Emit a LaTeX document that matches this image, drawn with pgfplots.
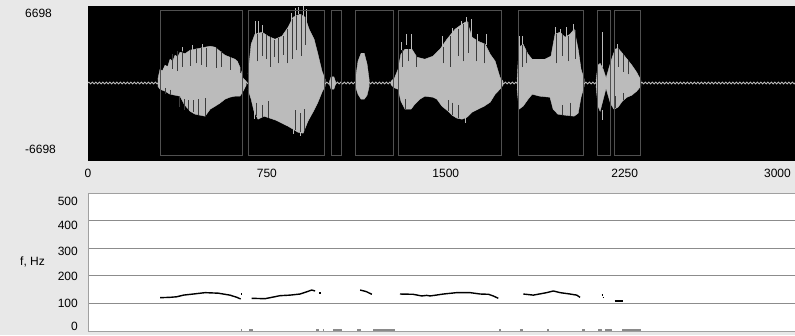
\documentclass[border=0pt]{standalone}
\usepackage{pgfplots}
\pgfplotsset{compat=1.18}
\usepackage{fontspec}
\setmainfont{Liberation Sans}
\usetikzlibrary{decorations.pathmorphing}
\definecolor{bg}{HTML}{E8E8E8}
\definecolor{wave}{HTML}{BBBBBB}
\definecolor{roi}{HTML}{505050}
\definecolor{gridc}{HTML}{8C8C8C}
\definecolor{frame}{HTML}{A0A0A0}
\definecolor{dark}{HTML}{3C3C3C}
\definecolor{markc}{HTML}{8A8A8A}
\begin{document}
\fontsize{12pt}{14pt}\selectfont
\begin{tikzpicture}[x=1pt,y=1pt]
\useasboundingbox (0,0) rectangle (795,335);
\fill[bg] (0,0) rectangle (795,335);
% ---------------- waveform panel ----------------
\begin{axis}[
  at={(88pt,175pt)}, anchor=south west, scale only axis,
  width=712pt, height=154pt,
  xmin=0, xmax=2985, ymin=-7080, ymax=7080,
  axis background/.style={fill=black},
  axis line style={black},
  xtick={0,750,1500,2250}, xticklabels={0,750,1500,2250},
  extra x ticks={2964}, extra x tick labels={3000},
  extra x tick style={xticklabel style={anchor=north east}},
  xticklabel style={yshift=-5pt, font=\fontsize{12pt}{14pt}\selectfont},
  ytick={-6086,6417}, yticklabels={-6698,6698},
  yticklabel style={anchor=west, xshift=-67pt, font=\fontsize{12pt}{14pt}\selectfont},
  major tick length=0pt, tick style={draw=none},
  unbounded coords=jump,
]
% background noise line
\addplot[wave, line width=1pt, decorate, decoration={zigzag, segment length=3.5pt, amplitude=0.9pt}] coordinates {(0,0) (2985,0)};
% blob A
\addplot[fill=wave, draw=wave, line width=0.4pt] coordinates {
(293,349) (302,1269) (312,1100) (323,1637) (334,1500) (344,2188) (355,2000) (365,2556) (376,2400) (386,2832) (407,2700) (428,3016) (449,3108) (470,3200) (491,3291) (512,3383) (533,3291) (553,2924) (574,2556) (595,2372) (616,2188) (626,2000) (637,1453) (650,441) (663,165)
(663,-202) (650,-754) (637,-1214) (616,-1214) (595,-1306) (574,-1489) (553,-1857) (533,-2133) (512,-2409) (491,-3052) (470,-2960) (449,-2868) (428,-2593) (403,-1949) (386,-1214) (365,-1122) (344,-1030) (323,-754) (302,-570) (293,-294)};
% blob B
\addplot[fill=wave, draw=wave, line width=0.4pt] coordinates {
(671,809) (684,3567) (700,4487) (730,4670) (755,4303) (784,4027) (813,4303) (839,5130) (860,6050) (889,6325) (910,6050) (927,4946) (948,4027) (964,2648) (981,1085) (994,349)
(994,-294) (981,-846) (964,-1765) (943,-2685) (922,-3512) (902,-4615) (880,-4524) (860,-4248) (839,-3972) (813,-3696) (788,-3420) (763,-3236) (738,-3052) (713,-3328) (696,-2593) (684,-1489) (671,-570)};
% small bump
\addplot[fill=wave, draw=wave, line width=0.4pt] coordinates {
(1012,100) (1019,560) (1031,560) (1038,100) (1038,-100) (1031,-560) (1019,-560) (1012,-100)};
% blob D
\addplot[fill=wave, draw=wave, line width=0.4pt] coordinates {
(1120,165) (1132,2004) (1145,2740) (1158,2740) (1170,1728) (1179,257)
(1179,-294) (1170,-1122) (1158,-1489) (1145,-1489) (1132,-1030) (1120,-202)};
% blob E
\addplot[fill=wave, draw=wave, line width=0.4pt] coordinates {
(1270,150) (1285,450) (1300,1269) (1312,2648) (1329,3108) (1358,3108) (1379,2372) (1412,2188) (1446,2464) (1476,3108) (1505,4027) (1539,4946) (1568,5406) (1589,5682) (1610,4211) (1635,3844) (1665,3567) (1686,2648) (1707,2004) (1727,533) (1740,165)
(1740,-202) (1727,-570) (1707,-1030) (1686,-1765) (1661,-2133) (1635,-2409) (1610,-2685) (1589,-3144) (1568,-3328) (1547,-3236) (1526,-2960) (1505,-2501) (1484,-2133) (1463,-1489) (1446,-1306) (1412,-1214) (1391,-1489) (1370,-1949) (1354,-2409) (1329,-2409) (1312,-1673) (1300,-570) (1285,-450) (1270,-150)};
% blob F
\addplot[fill=wave, draw=wave, line width=0.4pt] coordinates {
(1799,349) (1807,3291) (1824,3567) (1845,2648) (1862,2188) (1916,2188) (1941,2464) (1958,4487) (1979,4670) (2000,4211) (2021,4487) (2038,4946) (2055,3108) (2067,1269) (2080,349)
(2080,-294) (2067,-1306) (2055,-2777) (2038,-3052) (2000,-2960) (1970,-2868) (1950,-2409) (1937,-1306) (1895,-1214) (1862,-1030) (1845,-1489) (1824,-2133) (1807,-2409) (1799,-570)};
% blob G
\addplot[fill=wave, draw=wave, line width=0.4pt] coordinates {
(2130,257) (2138,1637) (2147,1800) (2160,1269) (2172,441) (2185,1453) (2198,2372) (2210,3108) (2222,3200) (2240,2740) (2260,2188) (2280,1637) (2300,993) (2318,257)
(2318,-294) (2300,-754) (2280,-1122) (2260,-1306) (2240,-1673) (2222,-2225) (2205,-2409) (2190,-1857) (2172,-478) (2160,-1489) (2147,-2593) (2138,-2133) (2130,-294)};
% light spikes
\addplot[wave, line width=0.9pt] coordinates {
(394,2800) (394,3300) (394,nan)
(436,2900) (436,3500) (436,nan)
(478,3100) (478,3600) (478,nan)
(700,4400) (700,5682) (700,nan)
(713,4400) (713,5682) (713,nan)
(730,4600) (730,5300) (730,nan)
(851,5500) (851,6400) (851,nan)
(868,6000) (868,6900) (868,nan)
(881,6300) (881,7000) (881,nan)
(902,6000) (902,7153) (902,nan)
(914,5500) (914,6785) (914,nan)
(1316,3000) (1316,3751) (1316,nan)
(1333,3500) (1333,4487) (1333,nan)
(1354,3100) (1354,4487) (1354,nan)
(1488,3300) (1488,4303) (1488,nan)
(1530,4500) (1530,5100) (1530,nan)
(1564,5300) (1564,5700) (1564,nan)
(1585,5500) (1585,6050) (1585,nan)
(1606,4200) (1606,5866) (1606,nan)
(1631,3800) (1631,4487) (1631,nan)
(1669,3500) (1669,4487) (1669,nan)
(1807,3200) (1807,4303) (1807,nan)
(1820,3500) (1820,4303) (1820,nan)
(1960,4400) (1960,5130) (1960,nan)
(1979,4600) (1979,4946) (1979,nan)
(2004,4200) (2004,5130) (2004,nan)
(2034,4900) (2034,5406) (2034,nan)
(2155,1500) (2155,4670) (2155,nan)
(2218,3100) (2218,3567) (2218,nan)
(696,-2500) (696,-3300) (696,nan)
(860,-4200) (860,-4700) (860,nan)
(889,-4400) (889,-4900) (889,nan)
(1584,-3100) (1584,-3700) (1584,nan)
(2155,-2500) (2155,-3400) (2155,nan)
};
% dark streaks
\addplot[dark, line width=0.8pt] coordinates {
(352,1300) (352,2700) (352,nan)
(373,1100) (373,2900) (373,nan)
(394,1500) (394,2950) (394,nan)
(428,1600) (428,3000) (428,nan)
(453,1800) (453,3100) (453,nan)
(474,1700) (474,3200) (474,nan)
(495,1500) (495,3250) (495,nan)
(537,1400) (537,3250) (537,nan)
(558,1500) (558,2900) (558,nan)
(595,1200) (595,2372) (595,nan)
(637,900) (637,1450) (637,nan)
(323,-500) (323,-1000) (323,nan)
(344,-600) (344,-1100) (344,nan)
(382,-1300) (382,-2200) (382,nan)
(403,-1500) (403,-2500) (403,nan)
(419,-1600) (419,-2500) (419,nan)
(440,-1600) (440,-2700) (440,nan)
(461,-1500) (461,-2900) (461,nan)
(491,-1400) (491,-3000) (491,nan)
(709,2000) (709,4487) (709,nan)
(730,2500) (730,4600) (730,nan)
(746,2200) (746,4400) (746,nan)
(763,1500) (763,4200) (763,nan)
(780,2400) (780,4000) (780,nan)
(797,1800) (797,4100) (797,nan)
(818,2600) (818,4300) (818,nan)
(835,1800) (835,5000) (835,nan)
(855,2200) (855,5900) (855,nan)
(872,3000) (872,6200) (872,nan)
(893,2500) (893,6300) (893,nan)
(910,3500) (910,6050) (910,nan)
(705,-1800) (705,-3000) (705,nan)
(730,-2000) (730,-3100) (730,nan)
(755,-1700) (755,-3200) (755,nan)
(868,-2500) (868,-4300) (868,nan)
(889,-2800) (889,-4500) (889,nan)
(906,-2400) (906,-4400) (906,nan)
(1316,1500) (1316,3000) (1316,nan)
(1342,2000) (1342,3100) (1342,nan)
(1375,1500) (1375,2500) (1375,nan)
(1488,1800) (1488,3300) (1488,nan)
(1518,1500) (1518,4300) (1518,nan)
(1551,2500) (1551,5000) (1551,nan)
(1572,2000) (1572,5400) (1572,nan)
(1593,2800) (1593,5600) (1593,nan)
(1627,2000) (1627,4000) (1627,nan)
(1661,1800) (1661,3700) (1661,nan)
(1329,-1500) (1329,-2400) (1329,nan)
(1509,-1600) (1509,-2600) (1509,nan)
(1526,-1800) (1526,-2900) (1526,nan)
(1551,-2000) (1551,-3200) (1551,nan)
(1820,1500) (1820,3500) (1820,nan)
(1837,1800) (1837,3000) (1837,nan)
(1962,1800) (1962,4500) (1962,nan)
(1987,2500) (1987,4500) (1987,nan)
(2013,2000) (2013,4300) (2013,nan)
(2042,2200) (2042,4900) (2042,nan)
(1987,-2000) (1987,-2900) (1987,nan)
(2021,-1800) (2021,-3000) (2021,nan)
(2206,1200) (2206,3100) (2206,nan)
(2222,1500) (2222,3200) (2222,nan)
(2243,1000) (2243,2700) (2243,nan)
(2264,800) (2264,2100) (2264,nan)
(2210,-1200) (2210,-2300) (2210,nan)
(2243,-900) (2243,-1600) (2243,nan)
};
% segment rectangles
\addplot[roi, line width=0.9pt] coordinates {
(302,-6698) (647,-6698) (647,6698) (302,6698) (302,-6698) (302,nan)
(672,-6698) (990,-6698) (990,6698) (672,6698) (672,-6698) (672,nan)
(1019,-6698) (1061,-6698) (1061,6698) (1019,6698) (1019,-6698) (1019,nan)
(1120,-6698) (1280,-6698) (1280,6698) (1120,6698) (1120,-6698) (1120,nan)
(1301,-6698) (1735,-6698) (1735,6698) (1301,6698) (1301,-6698) (1301,nan)
(1804,-6698) (2077,-6698) (2077,6698) (1804,6698) (1804,-6698) (1804,nan)
(2136,-6698) (2189,-6698) (2189,6698) (2136,6698) (2136,-6698) (2136,nan)
(2207,-6698) (2316,-6698) (2316,6698) (2207,6698) (2207,-6698)
};
\end{axis}
% ---------------- pitch panel ----------------
\begin{axis}[
  at={(88pt,4pt)}, anchor=south west, scale only axis,
  width=712pt, height=138pt,
  xmin=0, xmax=2985, ymin=0, ymax=500,
  axis background/.style={fill=white},
  axis line style={frame, line width=0.8pt},
  xtick=\empty,
  ytick={100,200,300,400}, yticklabels={,,,},
  ymajorgrids, grid style={gridc, line width=0.8pt},
  extra y ticks={16,100,197,287,384,468},
  extra y tick labels={0,100,200,300,400,500},
  extra y tick style={grid=none},
  yticklabel style={xshift=-6pt, font=\fontsize{12pt}{14pt}\selectfont},
  major tick length=0pt, tick style={draw=none},
  ylabel={f, Hz},
  every axis y label/.style={at={(axis description cs:0,0.5)}, anchor=west, xshift=-72pt, font=\fontsize{12pt}{14pt}\selectfont},
  clip=false,
  unbounded coords=jump,
]
\addplot[black, line width=1.4pt] coordinates {
(302,120.7) (344,122) (372,124) (400,130) (442,134) (491,139) (546,137) (595,130) (624,122) (640,116) (640,nan)
(686,118.5) (742,117) (805,128) (847,130) (889,134) (917,142) (938,148.5) (952,145) (952,nan)
(1141,148.5) (1166,143) (1190,133) (1190,nan)
(1308,134) (1363,133) (1399,127) (1420,129) (1434,127) (1459,130) (1490,134) (1546,139) (1602,139) (1644,134) (1679,133) (1699,127) (1720,118.5) (1720,nan)
(1825,134) (1867,130) (1923,139) (1951,145) (1979,139) (2021,134) (2049,130) (2063,122)
};
\addplot[black, line width=1.5pt] coordinates {
(641,134) (647,134) (647,nan)
(970,137) (976,137) (976,nan)
(2153,130) (2159,130) (2159,nan)
(2157,122) (2163,122)
};
\addplot[black, line width=2.6pt] coordinates {(2208,108.7) (2242,108.7)};
% unvoiced markers near the baseline
\addplot[markc, line width=1.8pt] coordinates {
(641,3) (646,3) (646,nan)
(675,3) (692,3) (692,nan)
(956,3) (969,3) (969,nan)
(985,3) (990,3) (990,nan)
(1027,3) (1065,3) (1065,nan)
(1128,3) (1145,3) (1145,nan)
(1195,3) (1287,3) (1287,nan)
(1725,3) (1730,3) (1730,nan)
(1811,3) (1824,3) (1824,nan)
(1926,3) (1931,3) (1931,nan)
(2072,3) (2084,3) (2084,nan)
(2139,3) (2155,3) (2155,nan)
(2168,3) (2197,3) (2197,nan)
(2239,3) (2319,3)
};
\end{axis}
\end{tikzpicture}
\end{document}
